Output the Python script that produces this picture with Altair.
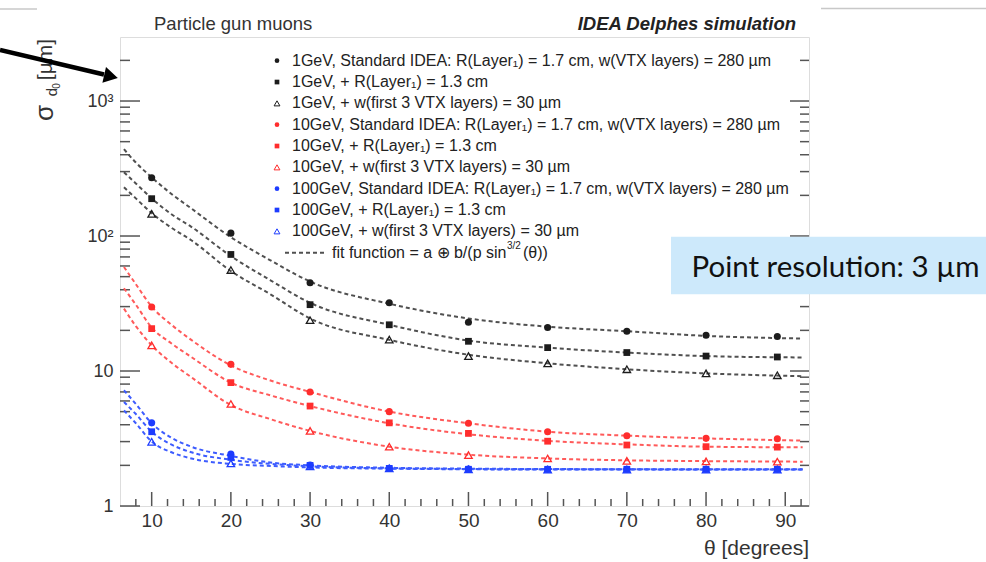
import altair as alt
import pandas as pd

# ---------------- data ----------------
theta_points = [10, 20, 30, 40, 50, 60, 70, 80, 89]

gev1_standard = [270, 105, 45, 32, 23, 21, 19.7, 18.4, 18.0]
gev1_r13 = [189, 73, 31, 22, 16.6, 14.9, 13.7, 12.9, 12.7]
gev1_w30 = [146, 56, 23.8, 17.1, 12.9, 11.4, 10.3, 9.6, 9.3]
gev10_standard = [29.8, 11.2, 7.0, 5.0, 4.1, 3.55, 3.31, 3.17, 3.15]
gev10_r13 = [20.6, 8.2, 5.5, 4.13, 3.45, 3.02, 2.83, 2.75, 2.73]
gev10_w30 = [15.5, 5.7, 3.6, 2.75, 2.38, 2.25, 2.16, 2.14, 2.13]
gev100_standard = [4.13, 2.43, 2.01, 1.9, 1.88, 1.87, 1.87, 1.87, 1.87]
gev100_r13 = [3.55, 2.29, 2.0, 1.9, 1.87, 1.87, 1.87, 1.87, 1.87]
gev100_w30 = [2.99, 2.07, 1.97, 1.9, 1.87, 1.86, 1.86, 1.86, 1.86]

theta_fit = [6.5, 8, 10, 12.5, 15, 20, 25, 30, 40, 50, 60, 70, 80, 92.2]
fit_gev1_standard = [440, 350, 272, 205, 160, 98, 66, 46, 31.5, 24.5, 21.3, 19.7, 18.2, 17.4]
fit_gev1_r13 = [297, 245, 190, 145, 117, 71, 47, 32, 22, 16.8, 14.9, 13.7, 12.9, 12.6]
fit_gev1_w30 = [230, 190, 148, 115, 93, 55, 37, 24.5, 17, 13.2, 11.4, 10.3, 9.6, 9.15]
fit_gev10_standard = [59, 44, 30, 22, 17, 11.0, 8.5, 7.0, 5.0, 4.1, 3.55, 3.32, 3.17, 3.05]
fit_gev10_r13 = [41, 31, 21, 16, 12.7, 8.2, 6.6, 5.5, 4.1, 3.4, 3.04, 2.86, 2.75, 2.72]
fit_gev10_w30 = [29, 21.5, 15.5, 11.5, 9.0, 5.6, 4.4, 3.6, 2.75, 2.4, 2.25, 2.18, 2.15, 2.13]
fit_gev100_standard = [7.2, 5.7, 4.1, 3.2, 2.75, 2.35, 2.1, 2.0, 1.92, 1.89, 1.88, 1.87, 1.87, 1.87]
fit_gev100_r13 = [5.9, 4.8, 3.55, 2.85, 2.5, 2.2, 2.05, 1.97, 1.9, 1.88, 1.87, 1.87, 1.86, 1.86]
fit_gev100_w30 = [5.1, 4.1, 3.0, 2.5, 2.25, 2.05, 1.98, 1.93, 1.89, 1.87, 1.86, 1.86, 1.86, 1.86]

energies = ["1GeV", "10GeV", "100GeV"]
variants = ["standard", "r13", "w30"]
legend_labels = [
    "1GeV, Standard IDEA: R(Layer\u2081) = 1.7 cm, w(VTX layers) = 280 \u00b5m",
    "1GeV, + R(Layer\u2081) = 1.3 cm",
    "1GeV, + w(first 3 VTX layers) = 30 \u00b5m",
    "10GeV, Standard IDEA: R(Layer\u2081) = 1.7 cm, w(VTX layers) = 280 \u00b5m",
    "10GeV, + R(Layer\u2081) = 1.3 cm",
    "10GeV, + w(first 3 VTX layers) = 30 \u00b5m",
    "100GeV, Standard IDEA: R(Layer\u2081) = 1.7 cm, w(VTX layers) = 280 \u00b5m",
    "100GeV, + R(Layer\u2081) = 1.3 cm",
    "100GeV, + w(first 3 VTX layers) = 30 \u00b5m",
]
y_label_values = [1, 10, 100, 1000]
x_label_values = [10, 20, 30, 40, 50, 60, 70, 80, 90]
y_minor_ticks = [2, 3, 4, 5, 6, 7, 8, 9, 20, 30, 40, 50, 60, 70, 80, 90,
                 200, 300, 400, 500, 600, 700, 800, 900, 2000]
x_minor_ticks = [8, 12, 14, 16, 18, 22, 24, 26, 28, 32, 34, 36, 38, 42, 44, 46, 48,
                 52, 54, 56, 58, 62, 64, 66, 68, 72, 74, 76, 78, 82, 84, 86, 88, 92]

point_series = [gev1_standard, gev1_r13, gev1_w30,
                gev10_standard, gev10_r13, gev10_w30,
                gev100_standard, gev100_r13, gev100_w30]
fit_series = [fit_gev1_standard, fit_gev1_r13, fit_gev1_w30,
              fit_gev10_standard, fit_gev10_r13, fit_gev10_w30,
              fit_gev100_standard, fit_gev100_r13, fit_gev100_w30]

rows_p, rows_f = [], []
for i, (ps, fs) in enumerate(zip(point_series, fit_series)):
    e = energies[i // 3]
    v = variants[i % 3]
    for t, s in zip(theta_points, ps):
        rows_p.append({"theta": t, "sigma": s, "energy": e, "variant": v, "sid": i})
    for t, s in zip(theta_fit, fs):
        rows_f.append({"theta": t, "sigma": s, "energy": e, "variant": v, "sid": i})
df_p = pd.DataFrame(rows_p)
df_f = pd.DataFrame(rows_f)

# ---------------- style ----------------
W, H = 689, 469
FONT = "Liberation Sans"
col_range = ["#1c1c1c", "#ff2d2d", "#1d3cff"]
line_range = ["#505050", "#ff5a5a", "#3d5cff"]
color_scale = alt.Scale(domain=energies, range=col_range)
xscale = alt.Scale(domain=[6, 93], nice=False, zero=False)
yscale = alt.Scale(type="log", domain=[1, 2980], nice=False)

x_axis = alt.Axis(values=x_label_values, ticks=False, domain=False, grid=False,
                  labelFontSize=19, labelPadding=5, labelFont=FONT, labelColor="#333",
                  title=None)
y_axis = alt.Axis(values=y_label_values, ticks=False, domain=False, grid=False,
                  labelFontSize=18, labelPadding=7, labelFont=FONT, labelColor="#333",
                  title=None,
                  labelExpr="datum.value >= 1000 ? '10\u00b3' : datum.value >= 100 ? '10\u00b2' : datum.label")


def X(f):
    return alt.X(f, scale=xscale, axis=x_axis)


def Y(f):
    return alt.Y(f, scale=yscale, axis=y_axis)


layers = []

# ticks (ROOT style, inside the frame)
tk = "#555"
ymaj = pd.DataFrame({"v": y_label_values})
ymin = pd.DataFrame({"v": y_minor_ticks})
xmaj = pd.DataFrame({"v": x_label_values})
xmin = pd.DataFrame({"v": x_minor_ticks})
layers.append(alt.Chart(ymaj).mark_rule(color=tk, strokeWidth=1.5).encode(
    y=Y("v:Q"), x=alt.value(0), x2=alt.value(20)))
layers.append(alt.Chart(ymin).mark_rule(color=tk, strokeWidth=1.5).encode(
    y=Y("v:Q"), x=alt.value(0), x2=alt.value(10)))
layers.append(alt.Chart(ymaj).mark_rule(color=tk, strokeWidth=1.5).encode(
    y=Y("v:Q"), x=alt.value(W - 19), x2=alt.value(W)))
layers.append(alt.Chart(ymin).mark_rule(color=tk, strokeWidth=1.5).encode(
    y=Y("v:Q"), x=alt.value(W - 9), x2=alt.value(W)))
layers.append(alt.Chart(xmaj).mark_rule(color=tk, strokeWidth=1.5).encode(
    x=X("v:Q"), y=alt.value(H - 14), y2=alt.value(H)))
layers.append(alt.Chart(xmin).mark_rule(color=tk, strokeWidth=1.5).encode(
    x=X("v:Q"), y=alt.value(H - 7), y2=alt.value(H)))

# fit curves
layers.append(alt.Chart(df_f).mark_line(strokeDash=[4, 3], strokeWidth=2, interpolate="monotone").encode(
    x=X("theta:Q"),
    y=Y("sigma:Q"),
    color=alt.Color("energy:N", scale=alt.Scale(domain=energies, range=line_range), legend=None),
    detail="sid:N"))

# points
base = alt.Chart(df_p).encode(x=X("theta:Q"), y=Y("sigma:Q"))
layers.append(base.transform_filter(alt.datum.variant == "standard").mark_point(
    shape="circle", filled=True, size=50, opacity=1).encode(
    fill=alt.Fill("energy:N", scale=color_scale, legend=None)))
layers.append(base.transform_filter(alt.datum.variant == "r13").mark_point(
    shape="square", filled=True, size=46, opacity=1).encode(
    fill=alt.Fill("energy:N", scale=color_scale, legend=None)))
layers.append(base.transform_filter(alt.datum.variant == "w30").mark_point(
    shape="triangle-up", filled=False, size=56, strokeWidth=1.3, opacity=1).encode(
    stroke=alt.Stroke("energy:N", scale=color_scale, legend=None)))


def txt(s, x, y, **kw):
    return alt.Chart(pd.DataFrame({"t": [s]})).mark_text(**kw).encode(
        x=alt.value(x), y=alt.value(y), text="t:N")


# legend
shapes = ["circle", "square", "triangle-up"]
for i, lab in enumerate(legend_labels):
    ly = 23.7 + 21.33 * i
    c = col_range[i // 3]
    shp = shapes[i % 3]
    filled = shp != "triangle-up"
    layers.append(alt.Chart(pd.DataFrame({"t": [lab]})).mark_point(
        shape=shp, filled=filled, size=22 if filled else 34, color=c, opacity=1, strokeWidth=1).encode(
        x=alt.value(157), y=alt.value(ly)))
    layers.append(txt(lab, 172, ly, align="left", baseline="middle", font=FONT,
                      fontSize=16, color="#222"))
ly_fit = 23.7 + 21.33 * 9
layers.append(alt.Chart(pd.DataFrame({"t": ["fit"]})).mark_rule(
    color="#505050", strokeDash=[4, 3], strokeWidth=2).encode(
    x=alt.value(165), x2=alt.value(205), y=alt.value(ly_fit)))
layers.append(txt("fit function = a \u2295 b/(p sin", 212, ly_fit, align="left", baseline="middle",
                  font=FONT, fontSize=16, color="#222"))
layers.append(txt("3/2", 387, ly_fit - 7, align="left", baseline="middle",
                  font=FONT, fontSize=10, color="#222"))
layers.append(txt("(\u03b8))", 403, ly_fit, align="left", baseline="middle",
                  font=FONT, fontSize=16, color="#222"))

# titles
layers.append(txt("Particle gun muons", 34, -7, align="left", baseline="alphabetic",
                  font=FONT, fontSize=18.5, color="#333"))
layers.append(txt("IDEA Delphes simulation", 676, -7, align="right", baseline="alphabetic",
                  font=FONT, fontSize=18.5, fontStyle="italic", fontWeight="bold", color="#222"))
layers.append(txt("\u03b8 [degrees]", W, 518, align="right", baseline="alphabetic",
                  font=FONT, fontSize=21, color="#333"))
layers.append(txt("[\u00b5m]", -74, 22.5, align="center", baseline="middle", angle=270,
                  font=FONT, fontSize=21, color="#333"))
layers.append(txt("\u03c3", -75, 76, align="center", baseline="middle", angle=270,
                  font=FONT, fontSize=26, color="#333"))
layers.append(txt("d", -68, 55, align="center", baseline="middle", angle=270,
                  font=FONT, fontSize=15, color="#333"))
layers.append(txt("0", -63, 49, align="center", baseline="middle", angle=270,
                  font=FONT, fontSize=10, color="#333"))

# slide decorations: arrow, grey lines, annotation box
layers.append(alt.Chart(pd.DataFrame({"t": ["a"]})).mark_rule(color="black", strokeWidth=4.5).encode(
    x=alt.value(-120), y=alt.value(13), x2=alt.value(-16), y2=alt.value(37.5)))
layers.append(alt.Chart(pd.DataFrame({"t": ["a"]})).mark_point(
    shape="triangle-right", filled=True, size=260, color="black", opacity=1, angle=13).encode(
    x=alt.value(-9), y=alt.value(39.5)))
layers.append(alt.Chart(pd.DataFrame({"t": ["a"]})).mark_rule(color="#c8c8c8", strokeWidth=1.5).encode(
    x=alt.value(-120), x2=alt.value(-83), y=alt.value(-28)))
layers.append(alt.Chart(pd.DataFrame({"t": ["a"]})).mark_rule(color="#c8c8c8", strokeWidth=1.5).encode(
    x=alt.value(701), x2=alt.value(866), y=alt.value(-28.5)))
layers.append(alt.Chart(pd.DataFrame({"t": ["a"]})).mark_rect(color="#cde9fb", opacity=1).encode(
    x=alt.value(551), x2=alt.value(866), y=alt.value(199.7), y2=alt.value(257.3)))
layers.append(txt("Point resolution: 3 \u00b5m", 571.5, 240, align="left", baseline="alphabetic",
                  font="Lato", fontSize=29.5, color="#111"))

chart = alt.layer(*layers).properties(
    width=W, height=H,
    autosize=alt.AutoSizeParams(type="none"),
    padding={"left": 120, "top": 37, "right": 177, "bottom": 56},
).configure_view(stroke="#4a4a4a", strokeWidth=2).configure(background="white")

chart.save("out.html", embed_options={"renderer": "svg", "actions": False})
